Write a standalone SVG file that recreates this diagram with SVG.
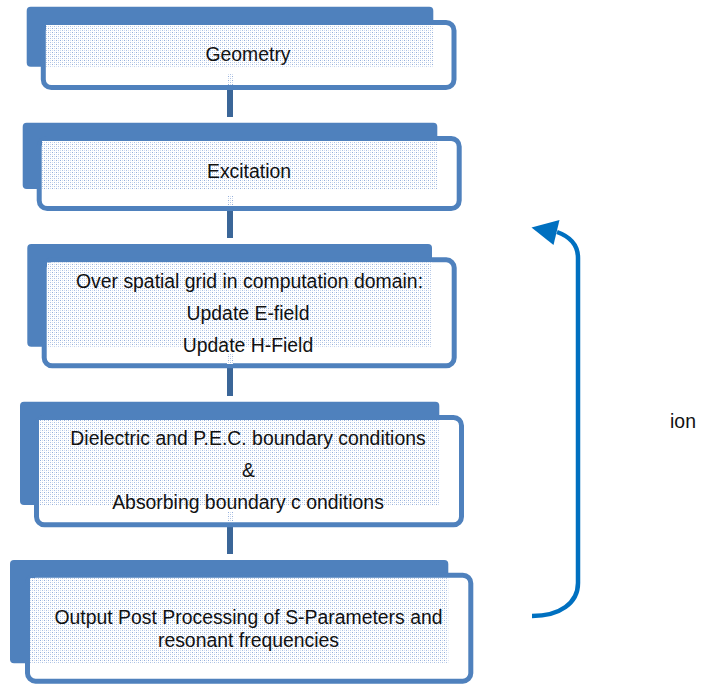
<svg xmlns="http://www.w3.org/2000/svg" width="703" height="685" viewBox="0 0 703 685">
  <style>
    .back { fill: #4f81bd; }
    .front { fill: #ffffff; stroke: #4f81bd; stroke-width: 5; }
    .dots { fill: url(#stipple); }
    .label { font-family: "Liberation Sans", Arial, sans-serif; font-size: 19.4px; fill: #111111; text-anchor: middle; }
    .link { stroke: #3b6698; stroke-width: 6; fill: none; }
    .loop { stroke: #0070c0; stroke-width: 4.5; fill: none; }
  </style>
  <defs>
    <pattern id="stipple" x="0" y="0" width="4" height="4" patternUnits="userSpaceOnUse">
      <rect width="4" height="4" fill="#ffffff"/>
      <rect x="0" y="0" width="1" height="1" fill="#94afdc"/>
      <rect x="2" y="2" width="1" height="1" fill="#adc2e5"/>
      <rect x="2" y="0" width="1" height="1" fill="#d3deef"/>
      <rect x="0" y="2" width="1" height="1" fill="#d3deef"/>
    </pattern>
  </defs>

  <!-- connectors between stages -->
  <g id="connectors">
    <line class="link" x1="230" y1="90" x2="230" y2="117"/>
    <line class="link" x1="230" y1="210" x2="230" y2="238"/>
    <line class="link" x1="230" y1="368" x2="230" y2="396"/>
    <line class="link" x1="230" y1="527" x2="230" y2="554"/>
    <!-- time-stepping loop -->
    <path class="loop" d="M532,616 C560,616 578,603 578,583 L578,258 C578,246 571,237 557,232"/>
    <polygon points="531.5,227.5 559.5,220 553.5,245" fill="#0070c0"/>
  </g>

  <g id="geometry">
    <rect class="back" x="26.7" y="6.7" width="406.6" height="60" rx="4"/>
    <rect class="front" x="43.3" y="22.5" width="410.7" height="65" rx="8"/>
    <rect class="dots" x="46" y="25" width="387.3" height="41.7"/>
    <rect class="dots" x="227" y="73" width="6" height="12"/>
    <text class="label" x="248" y="61">Geometry</text>
  </g>

  <g id="excitation">
    <rect class="back" x="22.7" y="122.7" width="414.6" height="66.3" rx="4"/>
    <rect class="front" x="39.2" y="138.5" width="420" height="70" rx="8"/>
    <rect class="dots" x="42" y="141" width="395.3" height="48"/>
    <rect class="dots" x="227" y="195" width="6" height="11"/>
    <text class="label" x="249" y="178">Excitation</text>
  </g>

  <g id="update-fields">
    <rect class="back" x="27.3" y="244" width="404.7" height="102.7" rx="4"/>
    <rect class="front" x="44.2" y="259.8" width="410" height="106" rx="8"/>
    <rect class="dots" x="47" y="262.5" width="385" height="84.2"/>
    <rect class="dots" x="227" y="353" width="6" height="11"/>
    <text class="label" x="249.5" y="288">Over spatial grid in computation domain:</text>
    <text class="label" x="248" y="320">Update E-field</text>
    <text class="label" x="248" y="352">Update H-Field</text>
  </g>

  <g id="boundaries">
    <rect class="back" x="20" y="401.7" width="419.3" height="103.3" rx="4"/>
    <rect class="front" x="36.5" y="417.5" width="425" height="107.3" rx="8"/>
    <rect class="dots" x="39" y="420" width="400.3" height="85"/>
    <rect class="dots" x="227" y="511" width="6" height="11"/>
    <text class="label" x="248" y="445">Dielectric and P.E.C. boundary conditions</text>
    <text class="label" x="248.5" y="477">&amp;</text>
    <text class="label" x="248" y="509">Absorbing boundary c onditions</text>
  </g>

  <g id="post-processing">
    <rect class="back" x="10" y="560" width="438.3" height="103.3" rx="4"/>
    <rect class="front" x="27.5" y="575.2" width="443.3" height="106" rx="8"/>
    <rect class="dots" x="30" y="578" width="418.3" height="85.3"/>
    <text class="label" x="248.5" y="624">Output Post Processing of S-Parameters and</text>
    <text class="label" x="248.5" y="647">resonant frequencies</text>
  </g>

  <g id="loop-label">
    <text class="label" x="683" y="428">ion</text>
  </g>
</svg>
